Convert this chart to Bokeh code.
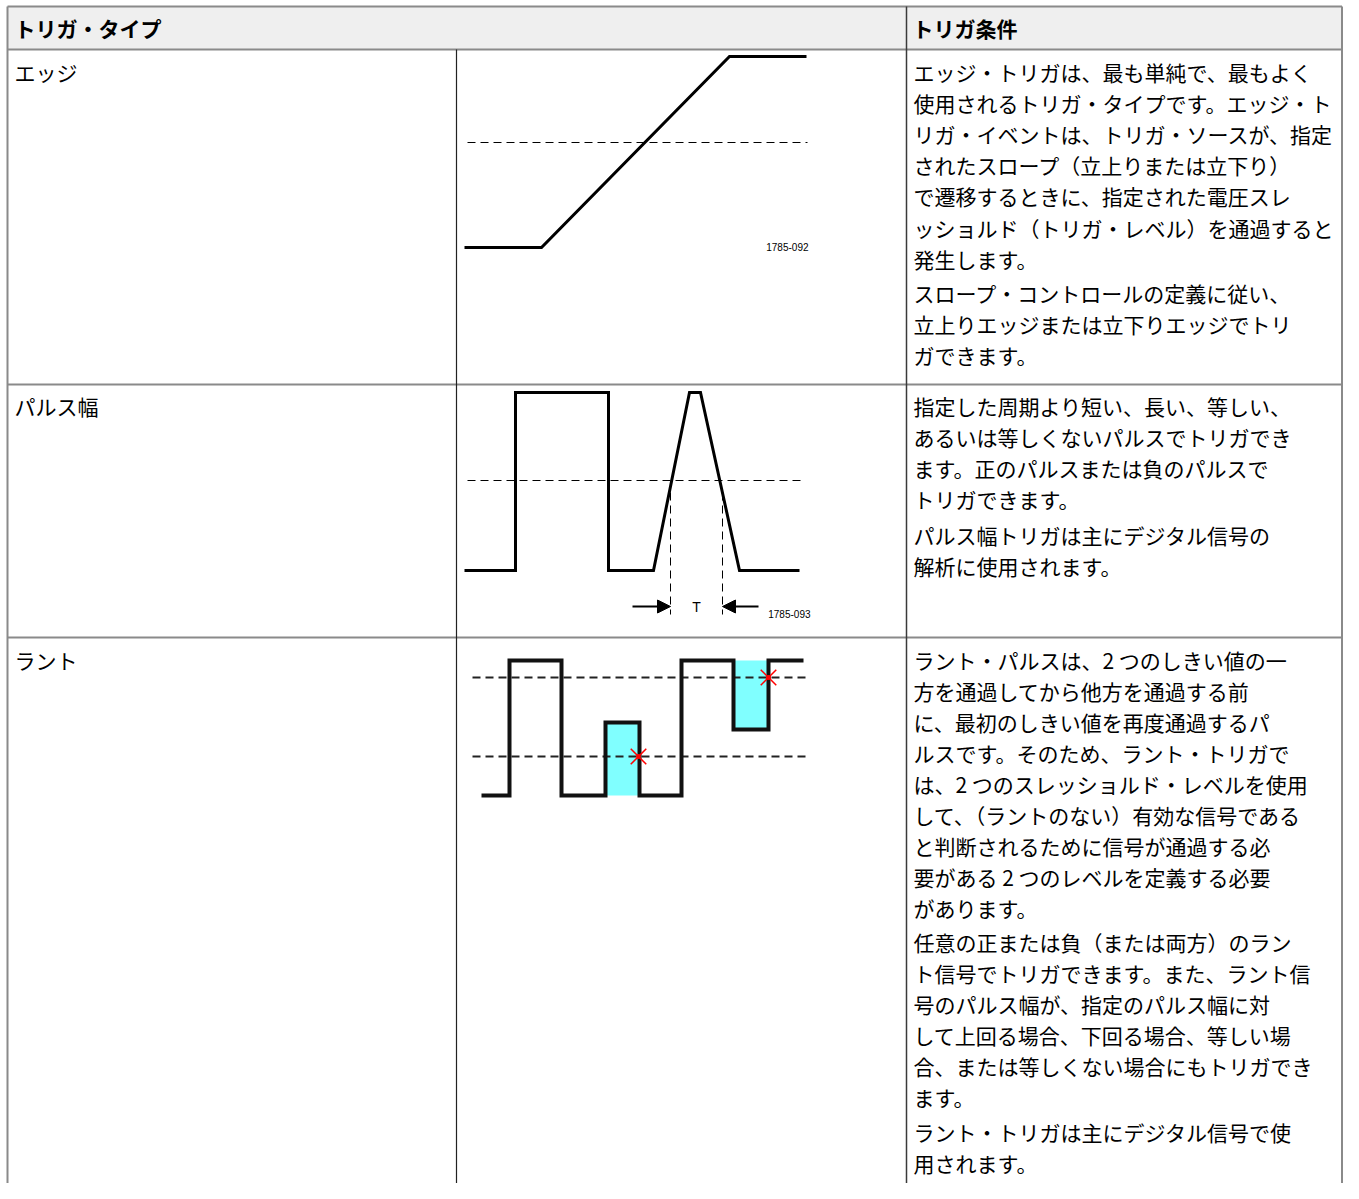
from bokeh.plotting import figure
from bokeh.models import Range1d, Arrow, NormalHead
from bokeh.core.properties import value
from bokeh.embed import file_html
from bokeh.resources import INLINE

# ---------------- data ----------------
header_labels = ["トリガ・タイプ", "トリガ条件"]
trigger_types = ["エッジ", "パルス幅", "ラント"]

edge_desc = [
    ["エッジ・トリガは、最も単純で、最もよく",
     "使用されるトリガ・タイプです。エッジ・ト",
     "リガ・イベントは、トリガ・ソースが、指定",
     "されたスロープ（立上りまたは立下り）",
     "で遷移するときに、指定された電圧スレ",
     "ッショルド（トリガ・レベル）を通過すると",
     "発生します。"],
    ["スロープ・コントロールの定義に従い、",
     "立上りエッジまたは立下りエッジでトリ",
     "ガできます。"],
]
pulse_desc = [
    ["指定した周期より短い、長い、等しい、",
     "あるいは等しくないパルスでトリガでき",
     "ます。正のパルスまたは負のパルスで",
     "トリガできます。"],
    ["パルス幅トリガは主にデジタル信号の",
     "解析に使用されます。"],
]
runt_desc = [
    ["ラント・パルスは、2 つのしきい値の一",
     "方を通過してから他方を通過する前",
     "に、最初のしきい値を再度通過するパ",
     "ルスです。そのため、ラント・トリガで",
     "は、2 つのスレッショルド・レベルを使用",
     "して、（ラントのない）有効な信号である",
     "と判断されるために信号が通過する必",
     "要がある 2 つのレベルを定義する必要",
     "があります。"],
    ["任意の正または負（または両方）のラン",
     "ト信号でトリガできます。また、ラント信",
     "号のパルス幅が、指定のパルス幅に対",
     "して上回る場合、下回る場合、等しい場",
     "合、または等しくない場合にもトリガでき",
     "ます。"],
    ["ラント・トリガは主にデジタル信号で使",
     "用されます。"],
]
figure_ids = ["1785-092", "1785-093"]
period_label = "T"

# waveform of the edge diagram
edge_x = [464, 541, 729, 806]
edge_y = [247, 247, 56, 56]
edge_level = 142

# waveform of the pulse-width diagram
pulse_x = [464, 515, 515, 608, 608, 653, 689, 700, 739, 799]
pulse_y = [570, 570, 392, 392, 570, 570, 392, 392, 570, 570]
pulse_level = 480
pulse_width_marks = [670, 722]

# waveform of the runt diagram
runt_x = [481, 509, 509, 561, 561, 605, 605, 639, 639, 681, 681, 733, 733, 768, 768, 803]
runt_y = [795, 795, 660, 660, 795, 795, 722, 722, 795, 795, 660, 660, 729, 729, 660, 660]
runt_levels = [677, 756]
runt_fill_left = [605, 733]
runt_fill_right = [639, 768]
runt_fill_top = [722, 660]
runt_fill_bottom = [795, 729]
runt_cross_x = [638, 768]
runt_cross_y = [756, 677]

# ---------------- figure ----------------
W, H = 1343, 1183
p = figure(width=W, height=H, x_range=Range1d(0, W), y_range=Range1d(H, 0),
           output_backend="svg", toolbar_location=None, min_border=0,
           x_axis_type=None, y_axis_type=None)
p.grid.visible = False
p.outline_line_color = None
p.background_fill_color = "white"
p.border_fill_color = "white"

L, R = 7, 1341.5
C1, C2 = 456, 906
TOP, HB = 6, 49
ROW1B, ROW2B = 384, 637
BOTTOM = H

JP = value("Noto Sans CJK JP")
FS = "21px"

# header background
p.quad(left=L, right=R, top=TOP, bottom=HB, fill_color="#efefef", line_color=None)

# grid lines
grey = "#8a8a8a"
p.segment(x0=[L, L, L, L], x1=[R, R, R, R], y0=[TOP, HB, ROW1B, ROW2B], y1=[TOP, HB, ROW1B, ROW2B],
          line_color=grey, line_width=2)
p.segment(x0=[L, R], x1=[L, R], y0=[TOP, TOP], y1=[BOTTOM, BOTTOM], line_color=grey, line_width=2)
p.segment(x0=[C2], x1=[C2], y0=[TOP], y1=[BOTTOM], line_color="#3a3a3a", line_width=1.5)
p.segment(x0=[C1], x1=[C1], y0=[HB], y1=[BOTTOM], line_color="#222222", line_width=1.2)

# header text
p.text(x=[14, 912], y=[27, 27], text=header_labels, text_font=JP, text_font_size="21px",
       text_font_style="bold", text_baseline="middle", text_align="left", text_color="black")

# trigger type names
p.text(x=[14, 14, 14], y=[71, 405, 659], text=trigger_types, text_font=JP, text_font_size=FS,
       text_baseline="middle", text_align="left", text_color="black")


def place(paragraphs, y_start, step, gap):
    xs, ys, ts = [], [], []
    y = y_start
    for para in paragraphs:
        for line in para:
            xs.append(913)
            ys.append(y)
            ts.append(line)
            y += step
        y += gap
    return xs, ys, ts


for paras, y0, step, gap in [(edge_desc, 71, 31.2, 3), (pulse_desc, 405, 31.0, 5),
                             (runt_desc, 659, 31.0, 3.5)]:
    xs, ys, ts = place(paras, y0, step, gap)
    p.text(x=xs, y=ys, text=ts, text_font=JP, text_font_size=FS,
           text_baseline="middle", text_align="left", text_color="black")

# ---- edge diagram ----
p.line(x=[467, 807], y=[edge_level, edge_level], line_color="black", line_width=1, line_dash="8 5")
p.line(x=edge_x, y=edge_y, line_color="black", line_width=3, line_join="miter")

# ---- pulse width diagram ----
p.line(x=[467, 804], y=[pulse_level, pulse_level], line_color="black", line_width=1, line_dash="8 5")
p.segment(x0=pulse_width_marks, x1=pulse_width_marks, y0=[492, 492], y1=[614, 614],
          line_color="black", line_width=1, line_dash="8 5")
p.line(x=pulse_x, y=pulse_y, line_color="black", line_width=3, line_join="miter")
for xs_, xe_ in [(632, pulse_width_marks[0]), (758, pulse_width_marks[1])]:
    p.add_layout(Arrow(x_start=xs_, y_start=606, x_end=xe_, y_end=606, line_width=2,
                       end=NormalHead(size=13, fill_color="black", line_color="black")))
p.text(x=[(pulse_width_marks[0] + pulse_width_marks[1]) / 2], y=[606], text=[period_label],
       text_font=value("Liberation Sans"), text_font_size="14px", text_baseline="middle",
       text_align="center", text_color="black")

# figure ids
p.text(x=[808, 810], y=[246, 613], text=figure_ids,
       text_font=value("Liberation Sans"), text_font_size="10px",
       text_baseline="middle", text_align="right", text_color="black")

# ---- runt diagram ----
p.quad(left=runt_fill_left, right=runt_fill_right, top=runt_fill_top, bottom=runt_fill_bottom,
       fill_color="#80ffff", line_color=None)
for lv in runt_levels:
    p.line(x=[472, 809], y=[lv, lv], line_color="#222222", line_width=2, line_dash="8 5")
p.line(x=runt_x, y=runt_y, line_color="#111111", line_width=4, line_join="miter")
p.scatter(x=runt_cross_x, y=runt_cross_y, marker="x", size=22, line_color="red", line_width=1.5)
p.scatter(x=runt_cross_x, y=runt_cross_y, marker="circle", size=5, fill_color="red", line_color=None)

open("out.html", "w").write(file_html(p, INLINE))
